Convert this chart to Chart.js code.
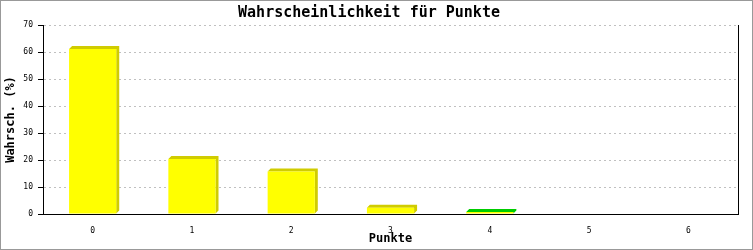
<!DOCTYPE html>
<html>
<head>
<meta charset="utf-8">
<script src="https://cdn.jsdelivr.net/npm/chart.js@4"></script>
<style>
html,body{margin:0;padding:0;background:#fff;}
canvas{display:block;}
</style>
</head>
<body>
<canvas id="c" width="753" height="250"></canvas>
<script>
const categories = ['0', '1', '2', '3', '4', '5', '6'];
const probabilities = [61.1, 20.4, 15.7, 2.3, 0.7, 0, 0];
const highlightIndex = 4;
const yMax = 70;
const yStep = 10;
const titleText = 'Wahrscheinlichkeit für Punkte';
const xTitle = 'Punkte';
const yTitle = 'Wahrsch. (%)';

const mono = '"DejaVu Sans Mono", "Liberation Mono", monospace';

const shadowPlugin = {
  id: 'shadow3d',
  beforeDatasetsDraw(chart) {
    const meta = chart.getDatasetMeta(0);
    const ctx = chart.ctx;
    const d = 3;
    meta.data.forEach((bar, i) => {
      if (!probabilities[i]) return;
      const p = bar.getProps(['x', 'y', 'base', 'width'], true);
      const l = p.x - p.width / 2, r = p.x + p.width / 2;
      const t = p.y, b = p.base;
      ctx.save();
      ctx.fillStyle = i === highlightIndex ? '#00cc00' : '#d0cc00';
      ctx.beginPath();
      ctx.moveTo(l, t);
      ctx.lineTo(l + d, t - d);
      ctx.lineTo(r + d, t - d);
      ctx.lineTo(r + d, b - d);
      ctx.lineTo(r, b);
      ctx.lineTo(r, t);
      ctx.closePath();
      ctx.fill();
      ctx.restore();
    });
  },
  afterDraw(chart) {
    const ctx = chart.ctx;
    const a = chart.chartArea;
    ctx.save();
    ctx.strokeStyle = '#000';
    ctx.lineWidth = 1;
    ctx.beginPath();
    ctx.moveTo(Math.round(a.right) + 0.5, a.top);
    ctx.lineTo(Math.round(a.right) + 0.5, a.bottom);
    ctx.stroke();
    ctx.strokeStyle = '#999';
    ctx.strokeRect(0.5, 0.5, chart.width - 1, chart.height - 1);
    ctx.restore();
  }
};

new Chart(document.getElementById('c'), {
  type: 'bar',
  data: {
    labels: categories,
    datasets: [{
      data: probabilities,
      backgroundColor: '#ffff00',
      borderWidth: 0,
      categoryPercentage: 1,
      barPercentage: 0.475
    }]
  },
  options: {
    responsive: false,
    animation: false,
    events: [],
    layout: { padding: { left: 0, right: 15, top: 0, bottom: 0 } },
    plugins: {
      legend: { display: false },
      tooltip: { enabled: false },
      title: {
        display: true,
        text: titleText,
        color: '#000',
        font: { family: mono, size: 15, weight: 'bold', lineHeight: 1.2 },
        padding: { top: 4, bottom: 3 }
      }
    },
    scales: {
      x: {
        grid: { display: false },
        border: { display: true, color: '#000', width: 1 },
        ticks: { color: '#000', font: { family: mono, size: 8 }, padding: 4, maxRotation: 0 },
        title: {
          display: true, text: xTitle, color: '#000',
          font: { family: mono, size: 12, weight: 'bold', lineHeight: 1.2 },
          padding: { top: 0, bottom: 4 }
        },
        afterFit(s) { s.height = 36; }
      },
      y: {
        min: 0, max: yMax,
        grid: {
          color: '#c0c0c0', lineWidth: 1, tickLength: 5, tickColor: '#000',
          tickBorderDash: []
        },
        border: { display: true, color: '#000', width: 1, dash: [2, 3] },
        ticks: { stepSize: yStep, color: '#000', font: { family: mono, size: 8 }, padding: 5 },
        title: {
          display: true, text: yTitle, color: '#000',
          font: { family: mono, size: 12, weight: 'bold', lineHeight: 1.2 },
          padding: { top: 4, bottom: 0 }
        },
        afterFit(s) { s.width = 43; }
      }
    }
  },
  plugins: [shadowPlugin]
});
</script>
</body>
</html>
